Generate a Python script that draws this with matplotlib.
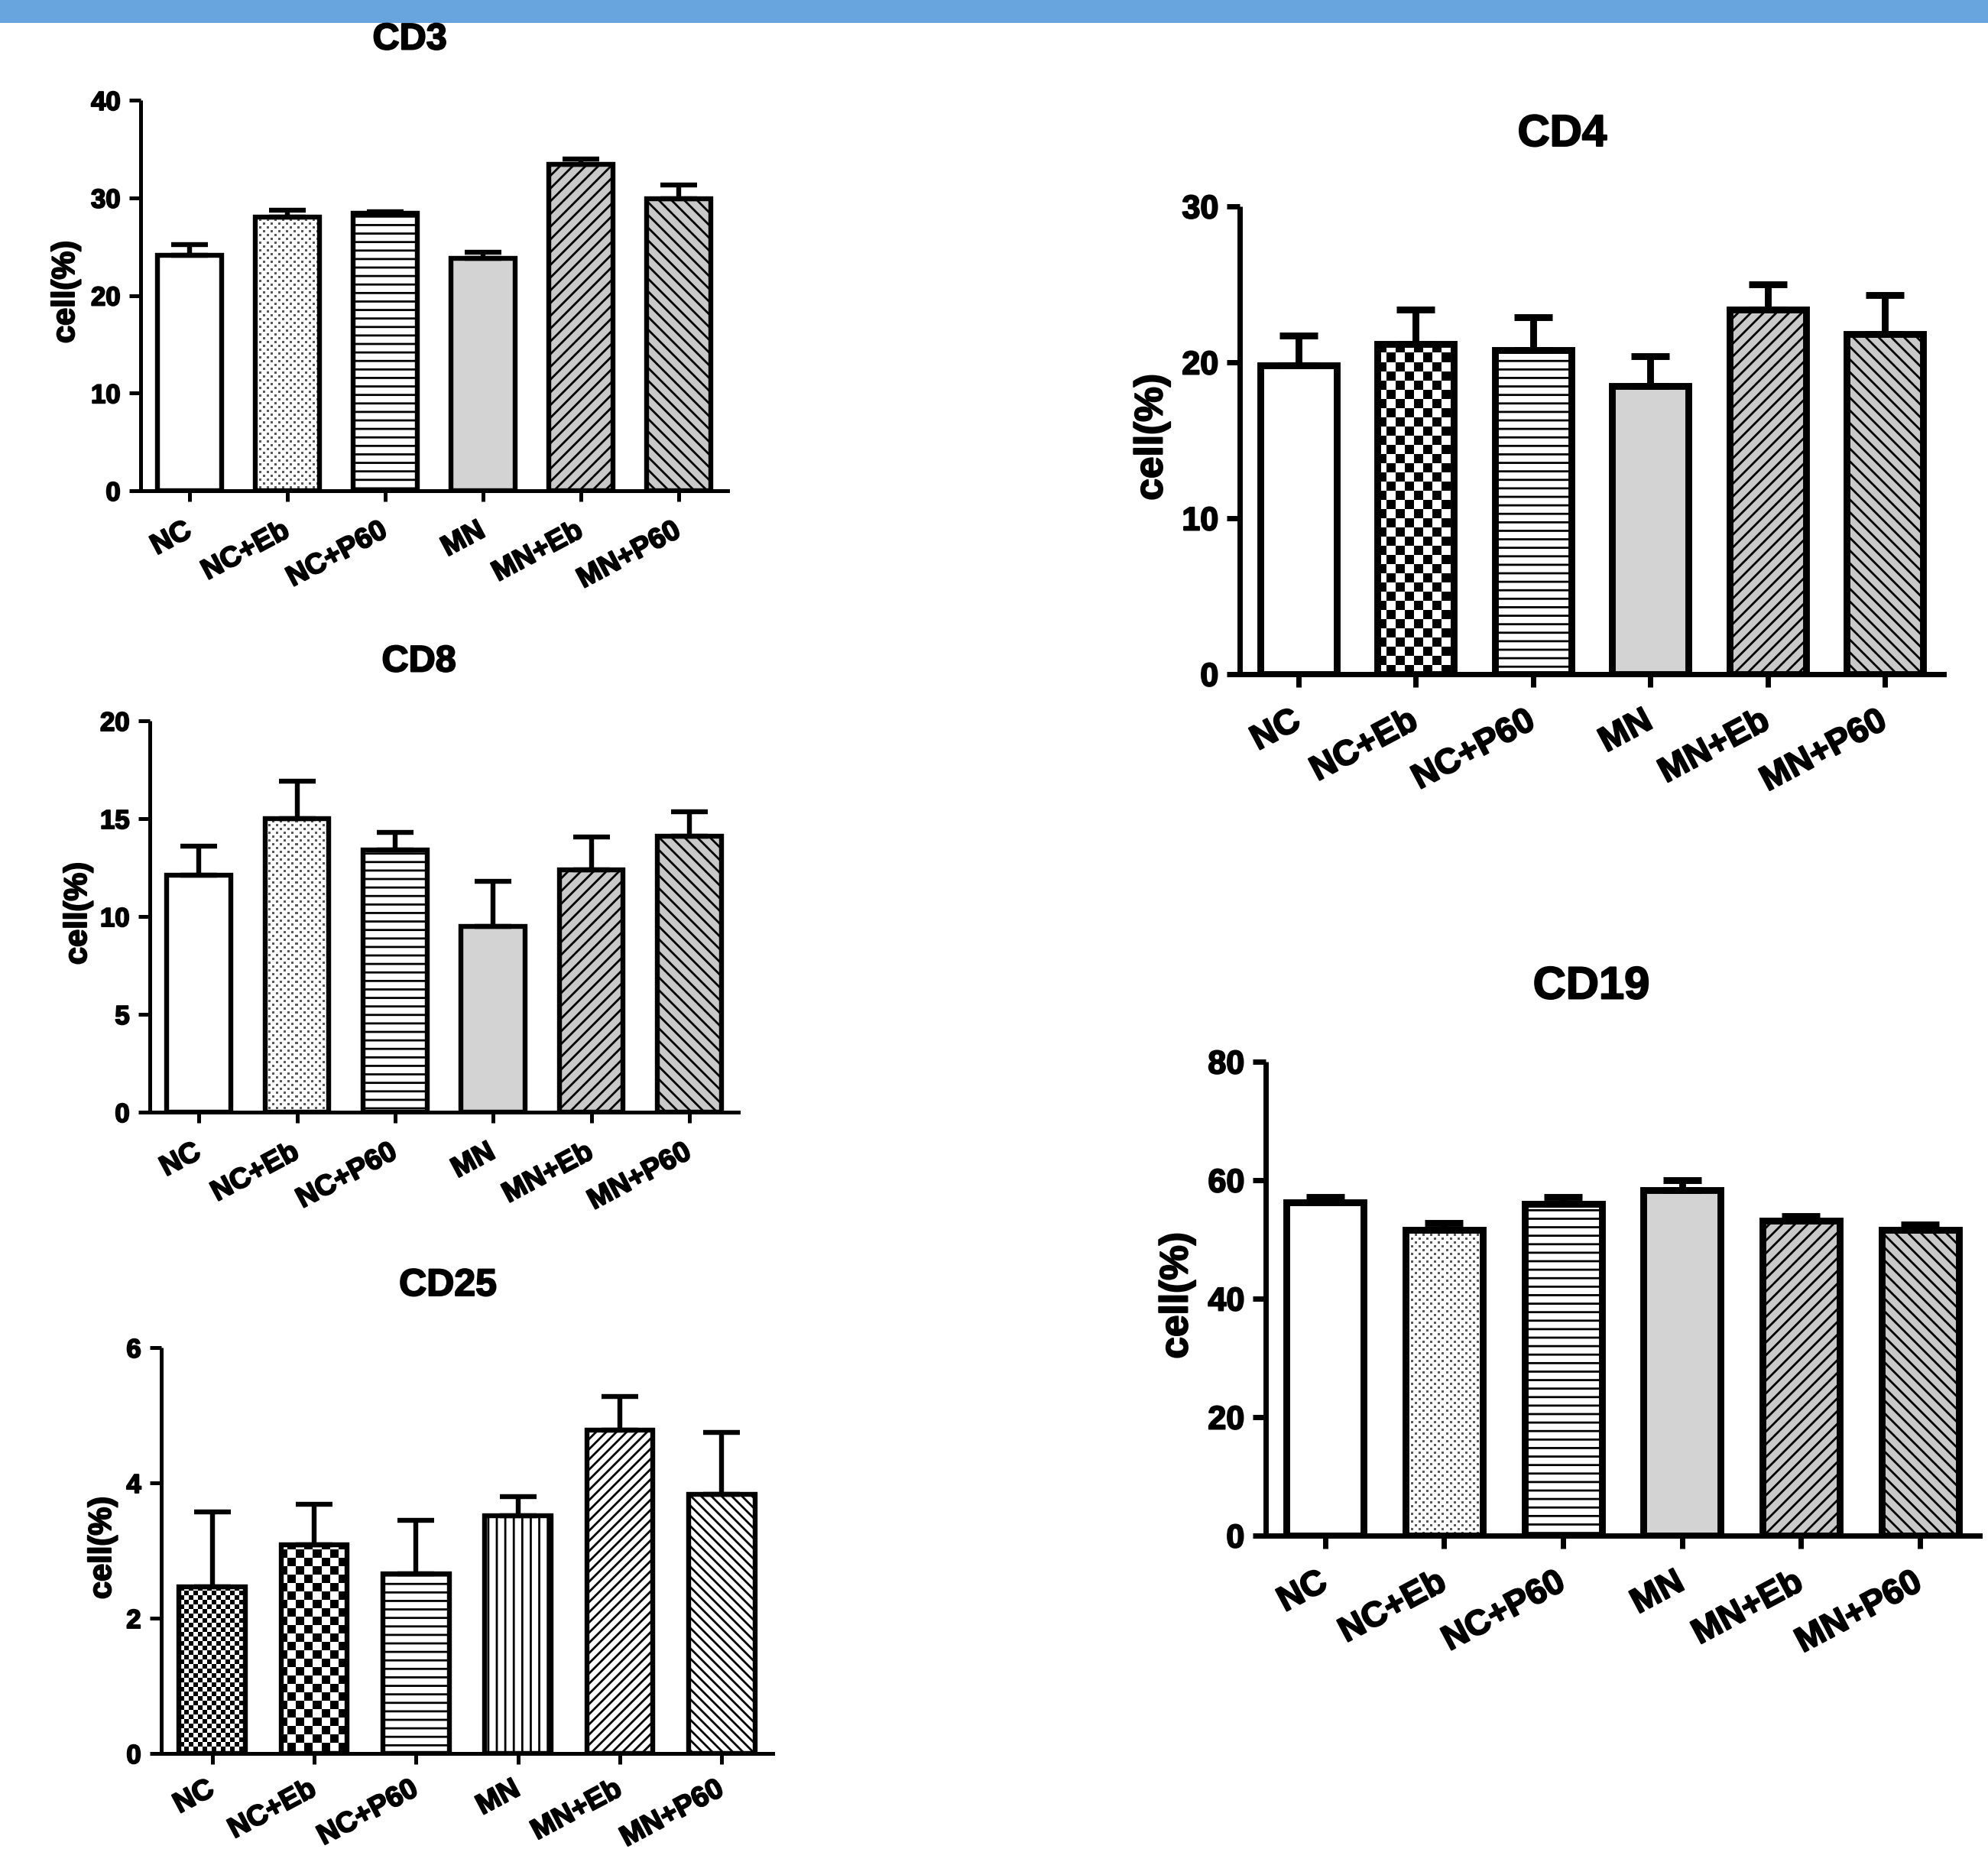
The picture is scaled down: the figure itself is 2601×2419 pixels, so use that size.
import numpy as np
import matplotlib
matplotlib.use("Agg")
import matplotlib.pyplot as plt
import matplotlib.patheffects as pe
from matplotlib.patches import Rectangle

plt.rcParams['font.family'] = ['Liberation Sans', 'DejaVu Sans']
plt.rcParams['font.weight'] = 'bold'
plt.rcParams['hatch.linewidth'] = 1.0

W, H, DPI = 2601, 2419, 200

groups = ["NC", "NC+Eb", "NC+P60", "MN", "MN+Eb", "MN+P60"]

cd3_mean = [24.1, 28.0, 28.4, 23.8, 33.4, 29.9]
cd3_err = [1.1, 0.7, 0.2, 0.6, 0.6, 1.4]
cd4_mean = [19.8, 21.2, 20.8, 18.5, 23.4, 21.8]
cd4_err = [1.9, 2.2, 2.1, 1.9, 1.6, 2.5]
cd8_mean = [12.1, 15.0, 13.4, 9.5, 12.4, 14.1]
cd8_err = [1.5, 1.9, 0.9, 2.3, 1.65, 1.25]
cd25_mean = [2.46, 3.08, 2.65, 3.51, 4.78, 3.83]
cd25_err = [1.11, 0.60, 0.80, 0.29, 0.50, 0.92]
cd19_mean = [56.3, 51.6, 56.0, 58.3, 53.2, 51.6]
cd19_err = [0.9, 1.2, 1.2, 1.7, 0.8, 0.9]

std_fills = ['white', 'dots', 'hlines', 'gray', 'gray_ne', 'gray_nw']
cd4_fills = ['white', 'checker', 'hlines', 'gray', 'gray_ne', 'gray_nw']
cd25_fills = ['fine_checker', 'checker11', 'hlines', 'vlines', 'ne', 'nw']

# face colour / hatch per fill kind (image kinds handled separately)
hatch_map = {
    'white': ('white', None),
    'gray': ('#d3d3d3', None),
    'hlines': ('white', '---'),
    'vlines': ('white', '|||'),
    'gray_ne': ('#c9c9c9', '////'),
    'gray_nw': ('#c9c9c9', '\\\\\\\\'),
    'ne': ('white', '/////'),
    'nw': ('white', '\\\\\\\\\\'),
}

bold_fx = [pe.withStroke(linewidth=0.7, foreground='black')]


def pattern(kind, w, h):
    yy, xx = np.mgrid[0:h, 0:w]
    img = np.ones((h, w, 4))
    if kind == 'dots':
        m = ((xx % 10 < 3) & (yy % 10 < 3)) | (((xx + 5) % 10 < 3) & ((yy + 5) % 10 < 3))
        img[m, :3] = 0.35
    else:
        cell = {'checker': 12, 'checker11': 11, 'fine_checker': 6}[kind]
        m = ((xx // cell + yy // cell) % 2 == 0)
        img[m, :3] = 0.0
    return img


def panel(box, title, tpos, lpos, mean, err, fills, yticks, big, xpad=None):
    l, t, r, b = box
    ax = fig.add_axes([l / W, 1 - b / H, (r - l) / W, (b - t) / H])
    lw_edge = 3.2 if big else 2.3
    lw_sp = 2.5 if big else 1.8
    fs_y = 15.5 if big else 12.5
    fs_x = 16.5 if big else 13.5
    fs_lab = 18.5 if big else 15
    x = np.arange(len(groups))
    wpx = int(round(r - l))
    hpx = int(round(b - t))
    for i in range(len(groups)):
        kind = fills[i]
        fc, hat = hatch_map.get(kind, ('white', None))
        bar = ax.bar(x[i], mean[i], width=0.65, color=fc, hatch=hat,
                     edgecolor='black', linewidth=0, zorder=1)[0]
        if kind not in hatch_map:
            im = ax.imshow(pattern(kind, wpx, hpx), extent=(0, 1, 0, 1),
                           transform=ax.transAxes, interpolation='nearest',
                           aspect='auto', zorder=1.5)
            im.set_clip_path(bar)
    ax.bar(x, mean, width=0.65, fill=False, edgecolor='black',
           linewidth=lw_edge, zorder=2, joinstyle='miter')
    ax.errorbar(x, mean, yerr=[np.zeros(len(x)), err], fmt='none',
                ecolor='black', elinewidth=lw_edge, capsize=9 if big else 8.5,
                capthick=lw_edge, zorder=3)
    ax.set_xlim(-0.5, len(groups) - 0.5)
    ax.set_ylim(0, yticks[-1])
    ax.set_yticks(yticks)
    ax.set_xticks(x)
    ax.set_xticklabels(groups, rotation=28, ha='right', va='center',
                       rotation_mode='anchor', fontsize=fs_x, fontweight='bold')
    if xpad is None:
        xpad = 15 if big else 13
    ax.tick_params(axis='y', length=6 if big else 5.5, width=lw_sp,
                   labelsize=fs_y, pad=4)
    ax.tick_params(axis='x', length=6 if big else 5, width=lw_sp, pad=xpad)
    for lab in ax.get_xticklabels() + ax.get_yticklabels():
        lab.set_path_effects(bold_fx)
    for s in ['top', 'right']:
        ax.spines[s].set_visible(False)
    for s in ['left', 'bottom']:
        ax.spines[s].set_linewidth(lw_sp)
    ax.spines['left'].set_capstyle('butt')
    fig.text(tpos[0] / W, 1 - tpos[1] / H, title, ha='center', va='center',
             fontsize=tpos[2], fontweight='bold', path_effects=bold_fx)
    fig.text(lpos[0] / W, 1 - lpos[1] / H, 'cell(%)', ha='center', va='center',
             rotation=90, fontsize=fs_lab, fontweight='bold', path_effects=bold_fx)
    return ax


fig = plt.figure(figsize=(W / DPI, H / DPI), dpi=DPI)
fig.patches.append(Rectangle((0, 1 - 30 / H), 1, 30 / H, transform=fig.transFigure,
                             facecolor='#68a4de', edgecolor='none'))

panel((184, 131, 952, 642), 'CD3', (536, 52, 17.5), (86, 382),
      cd3_mean, cd3_err, std_fills, [0, 10, 20, 30, 40], False)
panel((1622, 270, 2543, 882), 'CD4', (2044, 176, 21), (1507, 572),
      cd4_mean, cd4_err, cd4_fills, [0, 10, 20, 30], True)
panel((196, 943, 966, 1455), 'CD8', (548, 866, 17.5), (102, 1195),
      cd8_mean, cd8_err, std_fills, [0, 5, 10, 15, 20], False)
panel((211, 1763, 1011, 2294), 'CD25', (586, 1682, 18), (134, 2025),
      cd25_mean, cd25_err, cd25_fills, [0, 2, 4, 6], False, xpad=11)
panel((1656, 1389, 2590, 2009), 'CD19', (2082, 1291, 21.5), (1540, 1695),
      cd19_mean, cd19_err, std_fills, [0, 20, 40, 60, 80], True)

fig.savefig('out.png', dpi=DPI)
